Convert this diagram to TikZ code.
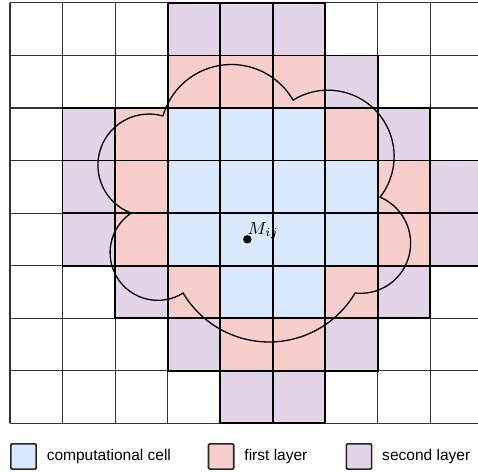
\documentclass[tikz,border=0pt]{standalone}
\usepackage[no-math]{fontspec}
\usepackage{fix-cm}
\newfontfamily\legendfont{Liberation Sans}
\usetikzlibrary{positioning}

\definecolor{compblue}{HTML}{DAE8FC}
\definecolor{firstpink}{HTML}{F8CECC}
\definecolor{secondpurple}{HTML}{E1D5E7}

\begin{document}
\begin{tikzpicture}[
        gridline/.style   = {draw=black!80, line width=0.6pt},
        compcell/.style   = {fill=compblue, draw=black, line width=1pt},
        firstcell/.style  = {fill=firstpink, draw=black, line width=1pt},
        secondcell/.style = {fill=secondpurple, draw=black, line width=1pt},
        cloudline/.style  = {draw=black, line width=0.7pt},
        legbox/.style     = {draw=black!85, line width=0.9pt, rounded corners=0.6pt,
                             minimum size=0.48cm, inner sep=0pt},
        legtext/.style    = {font=\legendfont\fontsize{8.4}{10}\selectfont, inner sep=0pt},
        node distance = 0.18cm]
        % Frame
        \useasboundingbox (-0.19,-0.908) rectangle (8.906,8.055);
        \clip (-0.19,-0.908) rectangle (8.906,8.055);

        % Grid
        \draw[gridline] (0,0) grid (9,8);

        % Second layer
        \foreach \x/\y in {3/7,4/7,5/7,6/6,1/5,7/5,1/4,8/4,1/3,8/3,2/2,7/2,3/1,6/1,4/0,5/0}
            \draw[secondcell] (\x,\y) rectangle ++(1,1);
        % First layer
        \foreach \x/\y in {3/6,4/6,5/6,2/5,6/5,2/4,7/4,2/3,7/3,3/2,6/2,4/1,5/1}
            \draw[firstcell] (\x,\y) rectangle ++(1,1);
        % Computational cells
        \foreach \x/\y in {3/5,4/5,5/5,3/4,4/4,5/4,6/4,3/3,4/3,5/3,6/3,4/2,5/2}
            \draw[compcell] (\x,\y) rectangle ++(1,1);

        % Cloud
        \coordinate (cA) at (2.911,5.848);
        \draw[cloudline] (cA)
            arc[start angle=163.9, end angle=30,    radius=1.355]
            arc[start angle=121.8, end angle=-38,   radius=1.26]
            arc[start angle=67,    end angle=-96.2, radius=0.953]
            arc[start angle=-30.7, end angle=-149.3,radius=1.903]
            arc[start angle=-57.9, end angle=-236,  radius=0.908]
            arc[start angle=-110.5,end angle=-286,  radius=0.973] -- cycle;

        % Centre point
        \node[circle, fill=black, inner sep=0pt, minimum size=0.16cm] (mij) at (4.516,3.501) {};
        \node[anchor=south west, inner sep=0pt, font=\fontsize{9.5}{11}\selectfont]
            (mijlabel) at (mij.center) {$M_{ij}$};

        % Legend
        \node[legbox, fill=compblue]     (legcomp)   at (0.257,-0.632) {};
        \node[legtext, right=of legcomp]   (legcomptext)   {computational cell};
        \node[legbox, fill=firstpink]    (legfirst)  at (4.019,-0.632) {};
        \node[legtext, right=of legfirst]  (legfirsttext)  {first layer};
        \node[legbox, fill=secondpurple] (legsecond) at (6.641,-0.632) {};
        \node[legtext, right=of legsecond] (legsecondtext) {second layer};
    \end{tikzpicture}
\end{document}
